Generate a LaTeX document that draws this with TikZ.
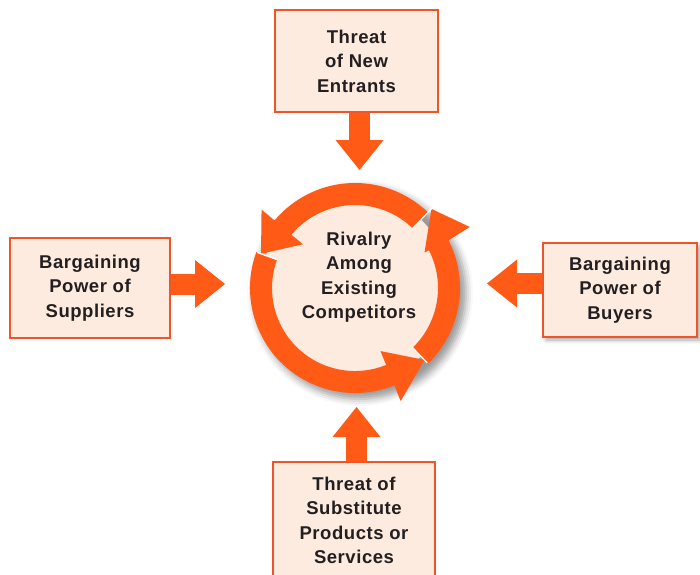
\documentclass[tikz,border=0pt]{standalone}
\usepackage{fontspec}
\newfontfamily\lblfont[LetterSpace=3]{Liberation Sans}
\usetikzlibrary{arrows.meta,shadows.blur}
\definecolor{ringc}{HTML}{FF5A16}
\definecolor{boxfill}{HTML}{FDEBDF}
\definecolor{boxline}{HTML}{F2542A}
\definecolor{textc}{HTML}{231F20}
\tikzset{
  lbl/.style={font=\lblfont\bfseries\fontsize{18.5}{24.5}\selectfont, text=textc, align=center},
  forcebox/.style={lbl, draw=boxline, line width=1.8pt, fill=boxfill, inner sep=0pt},
  blockarrow/.style={draw=ringc, line width=21pt,
     -{Triangle[width=48pt,length=30pt,line width=0pt]}},
}
\begin{document}
\begin{tikzpicture}[x=1pt,y=-1pt]
\useasboundingbox (0,0) rectangle (700,574);
% boxes
\node[forcebox, minimum width=163pt, minimum height=102pt] (top) at (356.5,61) {Threat\\of New\\Entrants};
\node[forcebox, minimum width=160pt, minimum height=100pt] (left) at (90,288) {Bargaining\\Power of\\Suppliers};
\node[forcebox, minimum width=154pt, minimum height=94pt,
      blur shadow={shadow xshift=3pt, shadow yshift=-3pt, shadow opacity=35, shadow blur radius=4pt}]
      (right) at (620,290) {Bargaining\\Power of\\Buyers};
\node[forcebox, minimum width=162pt, minimum height=120pt, text depth=0pt] (bottom) at (354,522) {};
\node[lbl] (bottomtxt) at (354,520.5) {Threat of\\Substitute\\Products or\\Services};
% ring centre
\coordinate (c) at (355,288);
\path[blur shadow={shadow xshift=5pt, shadow yshift=-5pt, shadow opacity=40, shadow blur radius=7pt}] (c) circle (106);
\fill[boxfill] (c) circle (95);
\node[lbl] (riv) at (359,277) {Rivalry\\Among\\Existing\\Competitors};
% ring arrows
\begin{scope}[shift={(355,288)}, yscale=-1]
  % A: top arc
  \fill[ringc] (46:105) arc[start angle=46, end angle=140, radius=105] -- (140:122) -- (160:100) -- (140:68) -- (140:83) arc[start angle=140, end angle=46, radius=83] -- cycle;
  % B: left-bottom arc
  \fill[ringc] (160:105) arc[start angle=160, end angle=292, radius=105] -- (292:122) -- (314:100) -- (292:68) -- (292:83) arc[start angle=292, end angle=160, radius=83] -- cycle;
  % C: right arc
  \fill[ringc] (-46:105) arc[start angle=-46, end angle=27, radius=105] -- (28:130) -- (46:110) -- (27:78) -- (27:83) arc[start angle=27, end angle=-46, radius=83] -- cycle;
  \draw[white, line width=1.3pt] (46:82) -- (46:112);
  \draw[white, line width=1.3pt] (160:82) -- (160:104);
  \draw[white, line width=1.3pt] (-46:82) -- (-46:104);
\end{scope}
% tips of block arrows
\coordinate (tipT) at (359.5,170);
\coordinate (tipL) at (225,284);
\coordinate (tipR) at (487,283.5);
\coordinate (tipB) at (356.5,407);
\draw[blockarrow] (tipT |- top.south) -- (tipT);
\draw[blockarrow] (tipL -| left.east) -- (tipL);
\draw[blockarrow] (tipR -| right.west) -- (tipR);
\draw[blockarrow] (tipB |- bottom.north) -- (tipB);
\end{tikzpicture}
\end{document}
